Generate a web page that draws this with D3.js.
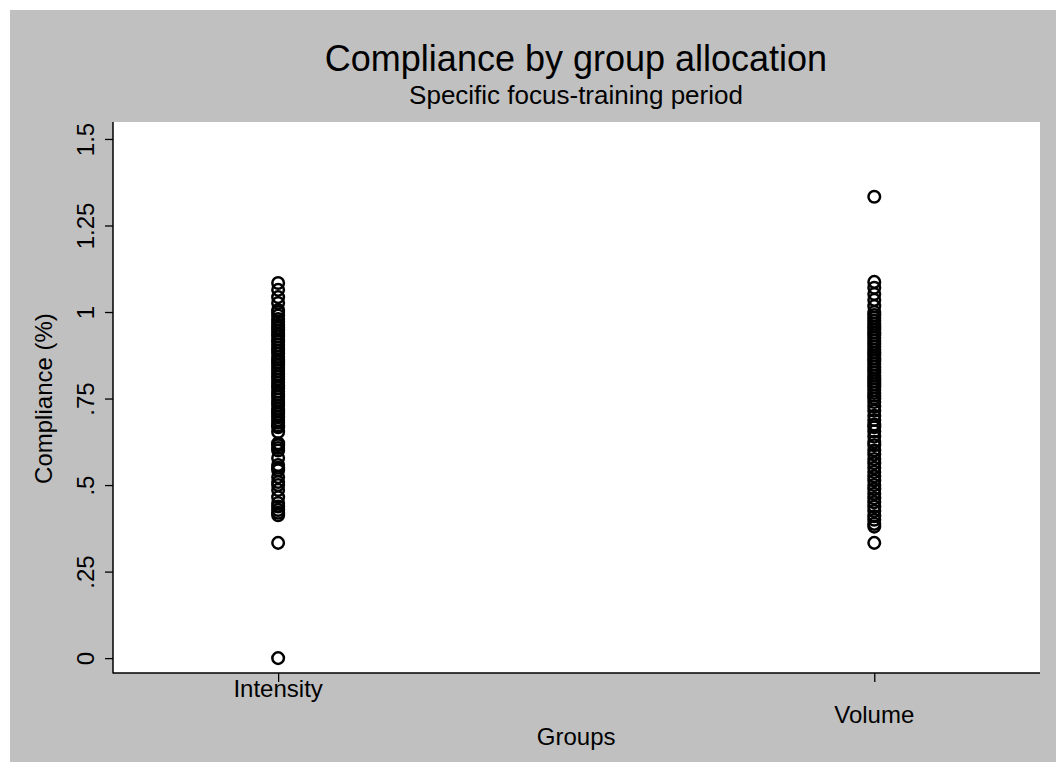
<!DOCTYPE html>
<html>
<head>
<meta charset="utf-8">
<script src="https://cdn.jsdelivr.net/npm/d3@7"></script>
<style>
  body { margin: 0; background: #fff; }
  text { font-family: "Liberation Sans", Arial, sans-serif; fill: #000; }
</style>
</head>
<body>
<svg width="1056" height="772"></svg>
<script>
// groups on the x axis (Stata codes 1 and 2)
var groups = ["Intensity", "Volume"];
var yTicks = [0, 0.25, 0.5, 0.75, 1, 1.25, 1.5];
var yTickLabels = ["0", ".25", ".5", ".75", "1", "1.25", "1.5"];

// compliance values
var intensity = [0, 0.333,
    0.413, 0.42, 0.428, 0.438, 0.448, 0.465, 0.486, 0.5, 0.509, 0.523,
    0.543, 0.55, 0.558, 0.578, 0.6, 0.607, 0.615, 0.621, 0.653, 0.667,
    0.672, 0.68, 0.688, 0.696, 0.705, 0.713,
    0.72, 0.73, 0.738, 0.746, 0.755, 0.762, 0.77, 0.78, 0.788, 0.796,
    0.805, 0.813, 0.82, 0.83, 0.838, 0.846, 0.855, 0.862, 0.87, 0.88,
    0.889, 0.896, 0.905, 0.913, 0.92, 0.93, 0.938, 0.947, 0.955, 0.963,
    0.972, 0.98, 0.99, 1.0, 1.006, 1.026, 1.043, 1.064, 1.084];

var volume = [0.333, 0.38, 0.388, 0.4, 0.41, 0.425, 0.438, 0.45, 0.462,
    0.475, 0.488, 0.5, 0.513, 0.525, 0.538, 0.55, 0.563, 0.575, 0.588,
    0.6, 0.615, 0.625, 0.64, 0.655, 0.667, 0.675, 0.688, 0.7, 0.715,
    0.727, 0.74, 0.75, 0.758, 0.766, 0.775, 0.783, 0.791, 0.8, 0.808,
    0.816, 0.825, 0.833, 0.841, 0.85, 0.858, 0.866, 0.875, 0.883, 0.891,
    0.9, 0.908, 0.916, 0.925, 0.933, 0.941, 0.95, 0.958, 0.966, 0.975,
    0.983, 0.991, 1.0, 1.017, 1.035, 1.052, 1.07, 1.087, 1.333];

var svg = d3.select("svg");

// gray graph region
svg.append("rect").attr("x", 10).attr("y", 10)
    .attr("width", 1046).attr("height", 752).attr("fill", "#c0c0c0");

var pLeft = 113, pRight = 1040, pTop = 122, pBottom = 673;

svg.append("rect").attr("x", pLeft).attr("y", pTop)
    .attr("width", pRight - pLeft).attr("height", pBottom - pTop)
    .attr("fill", "#fff");

var scX = d3.scaleLinear().domain([0.723, 2.278]).range([pLeft, pRight]);
var scY = d3.scaleLinear().domain([-0.043, 1.549]).range([pBottom, pTop]);

// y axis
var yAxis = svg.append("g").attr("transform", "translate(" + pLeft + ",0)")
    .call(d3.axisLeft(scY).tickValues(yTicks).tickSize(8).tickPadding(0)
        .tickFormat((d, i) => yTickLabels[i]));
yAxis.select(".domain").attr("stroke", "#000").attr("stroke-width", 1.5)
    .attr("d", "M0," + (pBottom + 0.5) + "V" + pTop);
yAxis.selectAll(".tick line").attr("stroke", "#000").attr("stroke-width", 1.3);
yAxis.selectAll(".tick text")
    .attr("transform", "rotate(-90)")
    .attr("x", 0).attr("y", -19)
    .attr("dy", 0)
    .attr("text-anchor", "middle")
    .style("font-size", "24px").style("font-family", "Liberation Sans, Arial, sans-serif");

// x axis
var xAxis = svg.append("g").attr("transform", "translate(0," + pBottom + ")")
    .call(d3.axisBottom(scX).tickValues([1, 2]).tickSize(9)
        .tickFormat(() => ""));
xAxis.select(".domain").attr("stroke", "#000").attr("stroke-width", 1.5)
    .attr("d", "M" + pLeft + ",0H" + pRight);
xAxis.selectAll(".tick line").attr("stroke", "#000").attr("stroke-width", 1.3);

// staggered group labels
svg.selectAll(".glabel").data(groups).enter().append("text")
    .attr("class", "glabel")
    .attr("x", (d, i) => scX(i + 1))
    .attr("y", (d, i) => i === 0 ? 697 : 723)
    .attr("text-anchor", "middle")
    .style("font-size", "24px")
    .text(d => d);

svg.append("text").attr("x", scX(1.5)).attr("y", 745)
    .attr("text-anchor", "middle").style("font-size", "24px").text("Groups");

svg.append("text")
    .attr("transform", "translate(52," + scY(0.75) + ") rotate(-90)")
    .attr("text-anchor", "middle").style("font-size", "24px")
    .text("Compliance (%)");

svg.append("text").attr("x", 576).attr("y", 71)
    .attr("text-anchor", "middle").style("font-size", "36px")
    .text("Compliance by group allocation");
svg.append("text").attr("x", 576).attr("y", 104)
    .attr("text-anchor", "middle").style("font-size", "26px")
    .text("Specific focus-training period");

// markers
var pts = svg.append("g").attr("fill", "none").attr("stroke", "#000")
    .attr("stroke-width", 2.5);
pts.selectAll(".pi").data(intensity).enter().append("circle")
    .attr("class", "pi").attr("r", 5.8)
    .attr("cx", scX(1)).attr("cy", d => scY(d));
pts.selectAll(".pv").data(volume).enter().append("circle")
    .attr("class", "pv").attr("r", 5.8)
    .attr("cx", scX(2)).attr("cy", d => scY(d));
</script>
</body>
</html>
